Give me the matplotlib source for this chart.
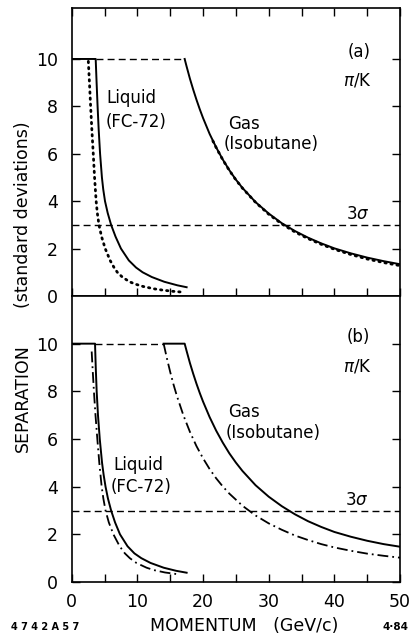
import numpy as np
import matplotlib
matplotlib.use("Agg")
import matplotlib.pyplot as plt

plt.rcParams['font.family'] = ['DejaVu Sans']
plt.rcParams['mathtext.fontset'] = 'dejavusans'

# ---------------- data ----------------
# Panel (a)
a_liq_solid_x = [0, 3.65, 3.79, 3.94, 4.11, 4.32, 4.6, 4.8, 5.07, 5.48, 6.0, 6.68, 7.5, 8.7, 9.8, 10.8, 12.2, 14.1, 16.1, 17.5]
a_liq_solid_y = [10, 10, 9, 8, 7, 6, 5, 4.5, 4, 3.5, 3, 2.5, 2.0, 1.5, 1.2, 1.0, 0.8, 0.6, 0.45, 0.37]
a_liq_dot_x = [2.53, 2.70, 2.88, 3.07, 3.28, 3.48, 3.72, 3.9, 4.15, 4.55, 5.1, 5.85, 6.45, 6.95, 7.7, 8.8, 9.7, 10.9, 12.6, 13.8, 15.3, 17.0]
a_liq_dot_y = [9.9, 9, 8, 7, 6, 5, 4, 3.5, 3, 2.5, 2.0, 1.5, 1.2, 1.0, 0.8, 0.6, 0.5, 0.4, 0.3, 0.25, 0.2, 0.16]
a_gas_solid_x = [17.2, 17.5, 18, 18.5, 19, 19.5, 20, 21, 22, 23, 24, 25, 26, 28, 30, 32, 34, 36, 38, 40, 42.5, 45, 47.5, 50]
a_gas_solid_y = [10, 9.68, 9.17, 8.71, 8.28, 7.88, 7.51, 6.84, 6.27, 5.76, 5.31, 4.91, 4.56, 3.96, 3.48, 3.07, 2.74, 2.46, 2.22, 2.01, 1.80, 1.62, 1.47, 1.34]
a_gas_dot_x = [21.5, 22, 23, 24, 25, 26, 28, 30, 32, 34, 36, 38, 40, 42.5, 45, 47.5, 50]
a_gas_dot_y = [6.54, 6.26, 5.75, 5.30, 4.90, 4.55, 3.95, 3.45, 3.04, 2.70, 2.42, 2.18, 1.97, 1.75, 1.56, 1.41, 1.28]
a_cap_x = [3.65, 17.2]
a_cap_y = [10, 10]

# Panel (b)
b_liq_solid_x = [0, 3.55, 3.66, 3.80, 4.0, 4.27, 4.62, 4.86, 5.15, 5.52, 6.0, 6.6, 7.35, 8.5, 9.55, 10.6, 12.0, 14.0, 15.9, 17.5]
b_liq_solid_y = [10, 10, 9, 8, 7, 6, 5, 4.5, 4, 3.5, 3, 2.5, 2.0, 1.5, 1.2, 1.0, 0.8, 0.6, 0.47, 0.39]
b_liq_dd_x = [3.04, 3.17, 3.38, 3.62, 3.9, 4.2, 4.56, 4.82, 5.15, 5.65, 6.35, 7.3, 8.1, 8.85, 9.85, 11.4, 12.5, 14.2, 16.3]
b_liq_dd_y = [9.67, 9, 8, 7, 6, 5, 4, 3.5, 3, 2.5, 2.0, 1.5, 1.2, 1.0, 0.8, 0.6, 0.5, 0.4, 0.32]
b_gas_solid_x = [14.0, 17.2, 17.5, 18, 18.5, 19, 19.5, 20, 21, 22, 23, 24, 25, 26, 28, 30, 32, 34, 36, 38, 40, 42.5, 45, 47.5, 50]
b_gas_solid_y = [10, 10, 9.69, 9.19, 8.74, 8.32, 7.93, 7.57, 6.92, 6.35, 5.85, 5.40, 5.01, 4.66, 4.06, 3.58, 3.18, 2.84, 2.55, 2.31, 2.10, 1.90, 1.73, 1.59, 1.48]
b_gas_dd_x = [14.0, 14.5, 15, 15.5, 16, 17, 18, 19, 20, 21, 22, 23, 24, 26, 28, 30, 32, 34, 36, 38, 40, 42.5, 45, 47.5, 50]
b_gas_dd_y = [10, 9.38, 8.81, 8.29, 7.82, 7.00, 6.30, 5.70, 5.19, 4.74, 4.35, 4.01, 3.71, 3.20, 2.79, 2.46, 2.19, 1.95, 1.76, 1.59, 1.45, 1.31, 1.19, 1.10, 1.02]
b_cap_x = [3.55, 14.0]
b_cap_y = [10, 10]

sigma_level = 3
x_range = [0, 50]
x_ticks = [0, 5, 10, 15, 20, 25, 30, 35, 40, 45, 50]
x_ticklabels = ['0', '', '10', '', '20', '', '30', '', '40', '', '50']
y_ticks = [0, 2, 4, 6, 8, 10]

# ---------------- figure ----------------
fig = plt.figure(figsize=(4.11, 6.36), dpi=100)
left, width = 0.1745, 0.7988
axa = fig.add_axes([left, 0.5346, width, 0.4528])
axb = fig.add_axes([left, 0.0849, width, 0.4497])

lw = 1.4
dash = (0, (5, 3))
dashdot = (0, (6, 2.2, 1, 2.2))
dotted = (0, (0.5, 1.7))

for ax in (axa, axb):
    ax.set_xlim(0, 50)
    for s in ax.spines.values():
        s.set_linewidth(1.2)
    ax.set_xticks(x_ticks)
    ax.set_yticks(y_ticks)
    ax.tick_params(direction='in', length=6, width=1.0, labelsize=12.5, pad=8)
    ax.tick_params(axis='y', pad=10)
    ax.plot(x_range, [sigma_level, sigma_level], color='black', lw=1.0, linestyle=dash)

axa.set_ylim(0, 12.15)
axb.set_ylim(0, 12)
axa.tick_params(top=True, right=True, labelbottom=False)
axb.tick_params(top=False, right=True)
axb.set_xticklabels(x_ticklabels)

# panel a
axa.plot(a_liq_solid_x, a_liq_solid_y, color='black', lw=lw)
axa.plot(a_liq_dot_x, a_liq_dot_y, color='black', lw=2.0, linestyle=dotted, dash_capstyle='round')
axa.plot(a_gas_solid_x, a_gas_solid_y, color='black', lw=lw)
axa.plot(a_gas_dot_x, a_gas_dot_y, color='black', lw=2.0, linestyle=dotted, dash_capstyle='round')
axa.plot(a_cap_x, a_cap_y, color='black', lw=1.0, linestyle=dash)

# panel b
axb.plot(b_liq_solid_x, b_liq_solid_y, color='black', lw=lw)
axb.plot(b_liq_dd_x, b_liq_dd_y, color='black', lw=1.3, linestyle=dashdot)
axb.plot(b_gas_solid_x, b_gas_solid_y, color='black', lw=lw)
axb.plot(b_gas_dd_x, b_gas_dd_y, color='black', lw=1.3, linestyle=dashdot)
axb.plot(b_cap_x, b_cap_y, color='black', lw=1.0, linestyle=dash)

fs = 12
# annotations panel a
axa.text(43.8, 10.3, '(a)', fontsize=fs, ha='center', va='center')
axa.text(43.5, 9.1, r'$\pi$/K', fontsize=fs, ha='center', va='center')
axa.text(5.3, 8.35, 'Liquid', fontsize=fs, ha='left', va='center')
axa.text(5.1, 7.35, '(FC-72)', fontsize=fs, ha='left', va='center')
axa.text(23.8, 7.27, 'Gas', fontsize=fs, ha='left', va='center')
axa.text(23.2, 6.4, '(Isobutane)', fontsize=fs, ha='left', va='center')
axa.text(43.6, 3.45, r'3$\sigma$', fontsize=fs, ha='center', va='center')

# annotations panel b
axb.text(43.6, 10.3, '(b)', fontsize=fs, ha='center', va='center')
axb.text(43.5, 9.04, r'$\pi$/K', fontsize=fs, ha='center', va='center')
axb.text(23.8, 7.15, 'Gas', fontsize=fs, ha='left', va='center')
axb.text(23.5, 6.25, '(Isobutane)', fontsize=fs, ha='left', va='center')
axb.text(6.3, 4.92, 'Liquid', fontsize=fs, ha='left', va='center')
axb.text(6.0, 4.0, '(FC-72)', fontsize=fs, ha='left', va='center')
axb.text(43.4, 3.46, r'3$\sigma$', fontsize=fs, ha='center', va='center')

# axis labels
H = 636.0
W = 411.0
fig.text(23 / W, 1 - 215 / H, '(standard deviations)', rotation=90, fontsize=12.5,
         ha='center', va='center')
fig.text(23 / W, 1 - 398 / H, 'SEPARATION', rotation=90, fontsize=12.5,
         ha='center', va='center')
fig.text(244 / W, 1 - 626 / H, 'MOMENTUM   (GeV/c)', fontsize=12.5, ha='center', va='center')
fig.text(45 / W, 1 - 627 / H, '4 7 4 2 A 5 7', fontsize=7, ha='center', va='center', fontweight='bold')
fig.text(395 / W, 1 - 627 / H, '4·84', fontsize=7.5, ha='center', va='center', fontweight='bold')

fig.savefig('out.png', dpi=100)
